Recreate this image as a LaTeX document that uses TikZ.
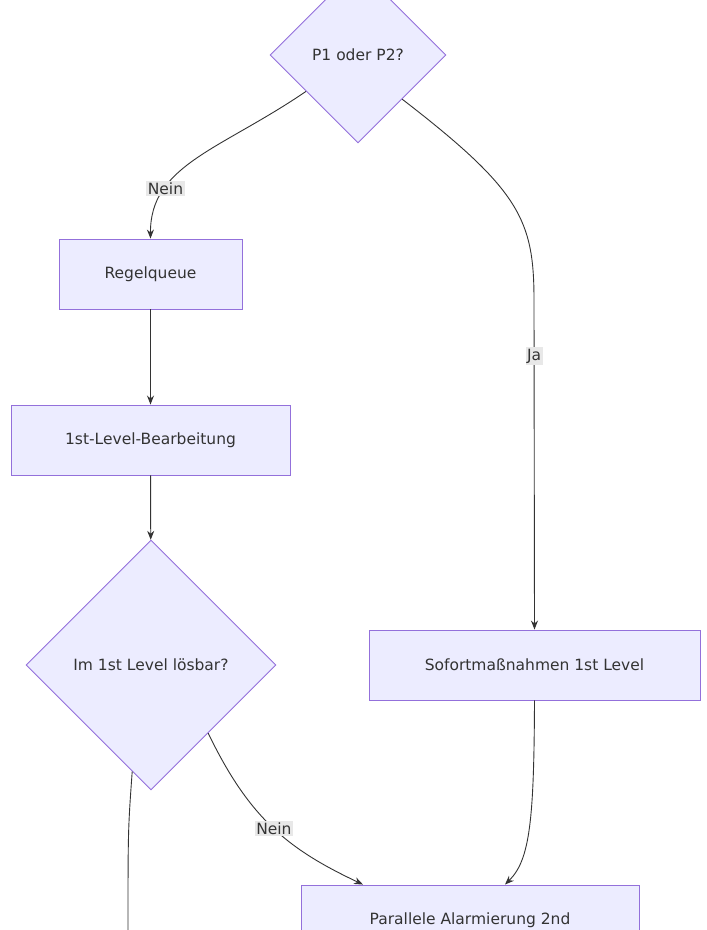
\documentclass[tikz,border=0pt]{standalone}
\usepackage{fontspec}
\setmainfont{DejaVu Sans}
\usetikzlibrary{shapes.geometric,arrows.meta}
\definecolor{boxfill}{HTML}{ECECFF}
\definecolor{boxline}{HTML}{9370DB}
\definecolor{edgeline}{HTML}{333333}
\definecolor{labelbg}{HTML}{E8E8E8}
\tikzset{
	box/.style={draw=boxline, fill=boxfill, rectangle, inner sep=0pt, minimum height=70pt, line width=0.9pt},
	decision/.style={draw=boxline, fill=boxfill, diamond, aspect=1, inner sep=0pt, line width=0.9pt},
	flow/.style={draw=edgeline, line width=0.9pt, -{Stealth[length=9pt,width=7pt]}},
	edgelabel/.style={fill=labelbg, inner sep=1.5pt, text=edgeline}
}
\begin{document}
\begin{tikzpicture}[x=1pt, y=-1pt, font=\fontsize{15.5}{18}\selectfont, text=edgeline]
				\useasboundingbox (0,0) rectangle (707,930);
				% nodes
				\node[decision, minimum size=176pt] (pq) at (358,55) {P1 oder P2?};
				\node[box, minimum width=183pt] (queue) at (150.5,274) {Regelqueue};
				\node[box, minimum width=279pt] (first) at (150.5,440) {1st-Level-Bearbeitung};
				\node[decision, minimum size=250pt] (solve) at (151,665) {Im 1st Level lösbar?};
				\node[box, minimum width=331pt] (instant) at (534.5,665) {Sofortmaßnahmen 1st Level};
				\node[box, minimum width=338pt] (alarm) at (470,920) {Parallele Alarmierung 2nd};
				\coordinate (down) at (128,935);
				% edges
				\draw[flow] (pq.215) .. controls (220,150) and (150,165) .. node[pos=0.72, edgelabel] {Nein} (queue.north);
				\draw[flow] (pq.315) .. controls (520,190) and (534,220) .. (534,300) -- node[pos=0.17, edgelabel] {Ja} (instant.north);
				\draw[flow] (queue) -- (first);
				\draw[flow] (first) -- (solve);
				\draw[flow] (solve.310) .. controls (250,820) and (290,850) .. node[pos=0.5, edgelabel] {Nein} (alarm.north west -| 363,885);
				\draw[flow] (instant.south) .. controls (534,820) and (530,860) .. (alarm.north east -| 505,885);
				\draw[draw=edgeline, line width=0.9pt] (solve.260) .. controls (128,830) .. (down);
			\end{tikzpicture}
\end{document}
